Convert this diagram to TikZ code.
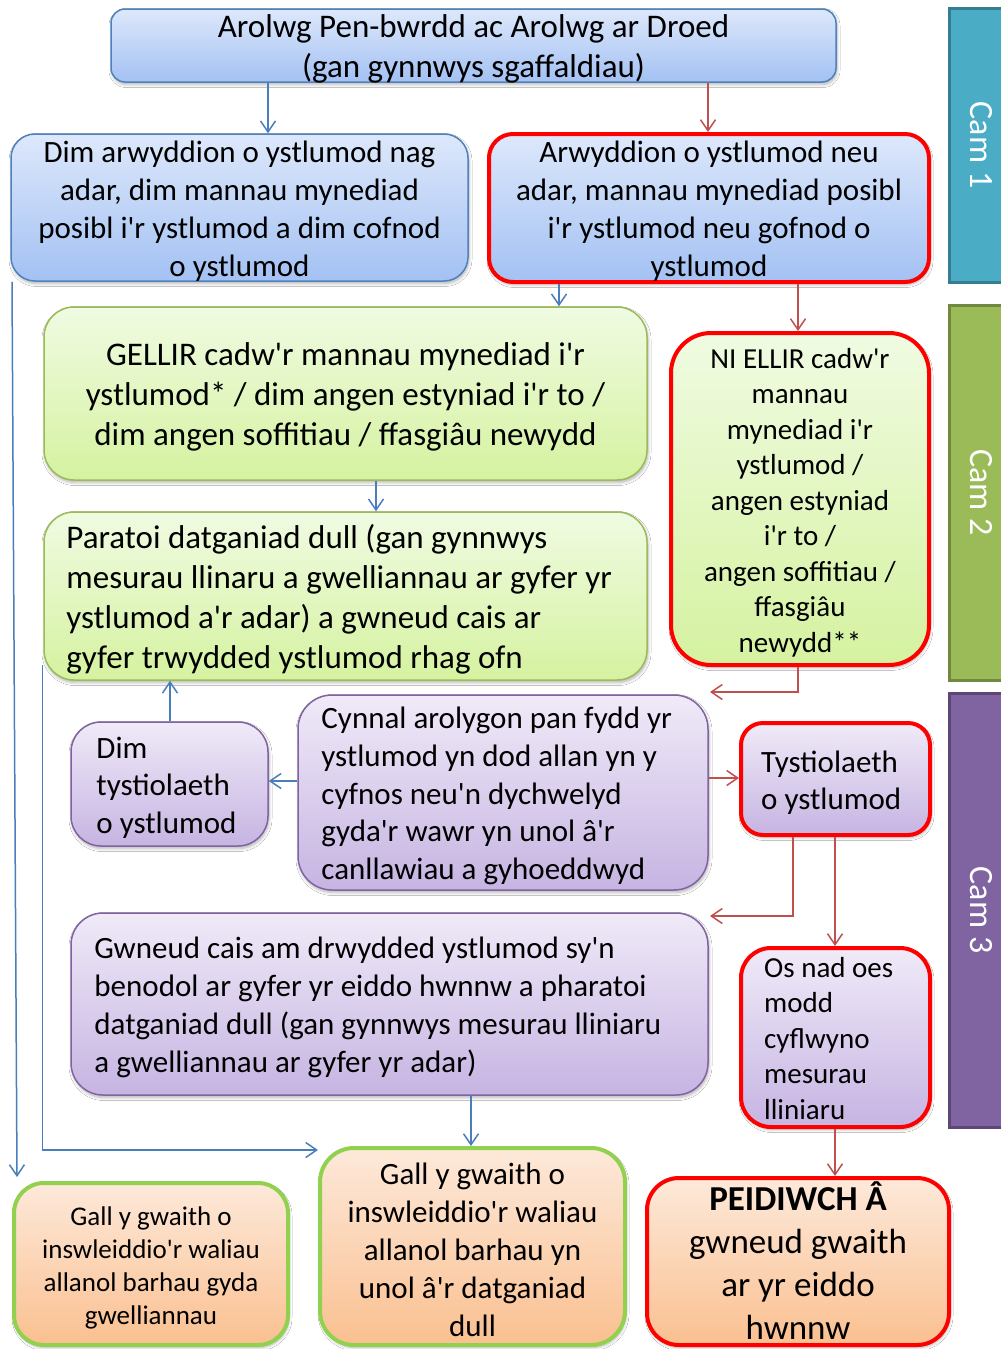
\documentclass[tikz,border=0pt]{standalone}
\usepackage{fontspec}
\setmainfont{Carlito}[Ligatures=TeXOff]
\usetikzlibrary{arrows.meta,shadows.blur}
\definecolor{bbord}{HTML}{4F81BD}
\definecolor{btop}{HTML}{DDE8FB}
\definecolor{bbot}{HTML}{A3C1F3}
\definecolor{gbord}{HTML}{9BBB59}
\definecolor{gtop}{HTML}{F0FBE2}
\definecolor{gbot}{HTML}{D5F2A0}
\definecolor{pbord}{HTML}{8064A2}
\definecolor{ptop}{HTML}{F0EAF8}
\definecolor{pbot}{HTML}{C6B4E2}
\definecolor{otop}{HTML}{FDE9DA}
\definecolor{obot}{HTML}{FAC090}
\definecolor{redb}{HTML}{FF0000}
\definecolor{greenb}{HTML}{92D050}
\definecolor{arrblue}{HTML}{4A7EBB}
\definecolor{arrred}{HTML}{C0504D}
\definecolor{camA}{HTML}{4BACC6}
\definecolor{camAb}{HTML}{357D91}
\definecolor{camB}{HTML}{9BBB59}
\definecolor{camBb}{HTML}{71893F}
\definecolor{camC}{HTML}{8064A2}
\definecolor{camCb}{HTML}{5C4776}
\begin{document}
\begin{tikzpicture}[x=1pt,y=-1pt,
  base/.style={rectangle, inner sep=0pt,
    blur shadow={shadow xshift=1pt, shadow yshift=-2.5pt, shadow opacity=30, shadow blur steps=6, shadow blur radius=3pt}},
  bluebox/.style={base, draw=bbord, line width=1.5pt, top color=btop, bottom color=bbot},
  greenbox/.style={base, draw=gbord, line width=1.5pt, top color=gtop, bottom color=gbot},
  purplebox/.style={base, draw=pbord, line width=1.5pt, top color=ptop, bottom color=pbot},
  orangebox/.style={base, draw=gbord, line width=1.5pt, top color=otop, bottom color=obot},
  redframe/.style={draw=redb, line width=4pt},
  greenframe/.style={draw=greenb, line width=4pt},
  ctext/.style={inner sep=0pt, align=center, text=black, yshift=-3.5pt},
  ltext/.style={inner sep=0pt, align=left, text=black, anchor=west, yshift=-3.5pt},
  camstyle/.style={rectangle, line width=3pt, text=white, rotate=-90, inner sep=0pt,
    font=\fontsize{34}{40}\selectfont},
  fs/.style 2 args={font=\fontsize{#1}{#2}\selectfont},
  barr/.style={draw=arrblue, line width=1.5pt, -{Straight Barb[length=11pt,width=15pt]}},
  rarr/.style={draw=arrred, line width=1.5pt, -{Straight Barb[length=11pt,width=15pt]}},
]
\useasboundingbox (0,0) rectangle (1001,1349);
\fill[white] (0,0) rectangle (1001,1349);

% stage bars
\node[camstyle, fill=camA, draw=camAb, minimum width=274pt, minimum height=64pt] (cam1) at (981,145) {Cam 1};
\node[camstyle, fill=camB, draw=camBb, minimum width=375pt, minimum height=64pt] (cam2) at (981,492.5) {Cam 2};
\node[camstyle, fill=camC, draw=camCb, minimum width=434pt, minimum height=64pt] (cam3) at (981,910) {Cam 3};

% boxes
\node[bluebox, rounded corners=14pt, minimum width=725pt, minimum height=73pt] (top) at (473.5,45.5) {};
\node[ctext, fs={33}{40}] (topt) at (top) {Arolwg Pen-bwrdd ac Arolwg ar Droed\\(gan gynnwys sgaffaldiau)};

\node[bluebox, rounded corners=24pt, minimum width=457pt, minimum height=147pt] (b2) at (239.5,207.5) {};
\node[ctext, fs={31}{38}] (b2t) at (b2) {Dim arwyddion o ystlumod nag\\adar, dim mannau mynediad\\posibl i'r ystlumod a dim cofnod\\o ystlumod};

\node[bluebox, redframe, rounded corners=24pt, minimum width=440pt, minimum height=148pt] (b3) at (709,208) {};
\node[ctext, fs={31}{38}] (b3t) at (b3) {Arwyddion o ystlumod neu\\adar, mannau mynediad posibl\\i'r ystlumod neu gofnod o\\ystlumod};

\node[greenbox, rounded corners=30pt, minimum width=603pt, minimum height=173pt] (gel) at (345.5,393.5) {};
\node[ctext, fs={33}{40}] (gelt) at (gel) {GELLIR cadw'r mannau mynediad i'r\\ystlumod* / dim angen estyniad i'r to /\\dim angen soffitiau / ffasgiâu newydd};

\node[greenbox, redframe, rounded corners=40pt, minimum width=258pt, minimum height=332pt] (ni) at (800,499) {};
\node[ctext, fs={29}{35.5}] (nit) at (ni) {NI ELLIR cadw'r\\mannau\\mynediad i'r\\ystlumod /\\angen estyniad\\i'r to /\\angen soffitiau /\\ffasgiâu\\newydd**};

\node[greenbox, rounded corners=30pt, minimum width=603pt, minimum height=168pt] (par) at (345.5,596) {};
\node[ltext, fs={33}{40}, xshift=23pt] (part) at (par.west) {Paratoi datganiad dull (gan gynnwys\\mesurau llinaru a gwelliannau ar gyfer yr\\ystlumod a'r adar) a gwneud cais ar\\gyfer trwydded ystlumod rhag ofn};

\node[purplebox, rounded corners=30pt, minimum width=197pt, minimum height=124pt] (dim) at (169.5,784) {};
\node[ltext, fs={31}{37.5}, xshift=26pt] (dimt) at (dim.west) {Dim\\tystiolaeth\\o ystlumod};

\node[purplebox, rounded corners=34pt, minimum width=410pt, minimum height=195pt] (cyn) at (503,792.5) {};
\node[ltext, fs={31}{37.7}, xshift=24pt] (cynt) at (cyn.west) {Cynnal arolygon pan fydd yr\\ystlumod yn dod allan yn y\\cyfnos neu'n dychwelyd\\gyda'r wawr yn unol â'r\\canllawiau a gyhoeddwyd};

\node[purplebox, redframe, rounded corners=22pt, minimum width=189pt, minimum height=112pt] (tys) at (835.5,779) {};
\node[ltext, fs={31}{37}, xshift=22pt] (tyst) at (tys.west) {Tystiolaeth\\o ystlumod};

\node[purplebox, rounded corners=32pt, minimum width=637pt, minimum height=182pt] (gwn) at (389.5,1004) {};
\node[ltext, fs={31}{38}, xshift=24pt] (gwnt) at (gwn.west) {Gwneud cais am drwydded ystlumod sy'n\\benodol ar gyfer yr eiddo hwnnw a pharatoi\\datganiad dull (gan gynnwys mesurau lliniaru\\a gwelliannau ar gyfer yr adar)};

\node[purplebox, redframe, rounded corners=30pt, minimum width=189pt, minimum height=179pt] (os) at (835.5,1037.5) {};
\node[ltext, fs={29}{35.5}, xshift=25pt, yshift=2.5pt] (ost) at (os.west) {Os nad oes\\modd\\cyflwyno\\mesurau\\lliniaru};

\node[orangebox, redframe, rounded corners=32pt, minimum width=302pt, minimum height=167pt] (pei) at (798,1261.5) {};
\node[ctext, fs={35}{43}, yshift=4.5pt] (peit) at (pei) {\textbf{PEIDIWCH Â}\\gwneud gwaith\\ar yr eiddo\\hwnnw};

\node[orangebox, greenframe, rounded corners=34pt, minimum width=305pt, minimum height=197pt] (gallm) at (472.5,1246.5) {};
\node[ctext, fs={31}{38}] (gallmt) at (gallm) {Gall y gwaith o\\inswleiddio'r waliau\\allanol barhau yn\\unol â'r datganiad\\dull};

\node[orangebox, greenframe, rounded corners=30pt, minimum width=274pt, minimum height=162pt] (galll) at (151,1264) {};
\node[ctext, fs={27}{33}] (galllt) at (galll) {Gall y gwaith o\\inswleiddio'r waliau\\allanol barhau gyda\\gwelliannau};

% helper coordinates
\coordinate (x12) at (12,0);
\coordinate (x170) at (170,0);
\coordinate (x268) at (268,0);
\coordinate (x376) at (376,0);
\coordinate (x471) at (471,0);
\coordinate (x559) at (559,0);
\coordinate (x708) at (708,0);
\coordinate (x793) at (793,0);
\coordinate (x798) at (798,0);
\coordinate (x835) at (835,0);
\coordinate (y665) at (0,665);
\coordinate (y781) at (0,781);
\coordinate (y778) at (0,778);
\coordinate (e6) at (710,692);
\coordinate (e10) at (710,916);
\coordinate (e14) at (17,1177);
\coordinate (e15) at (318,1150);

% connectors
\draw[barr] (top.south -| x268) -- (b2.north -| x268);
\draw[rarr] (top.south -| x708) -- (b3.north -| x708);
\draw[barr] (b3.south -| x559) -- (gel.north -| x559);
\draw[rarr] (b3.south -| x798) -- (ni.north -| x798);
\draw[barr] (gel.south -| x376) -- (par.north -| x376);
\draw[rarr] (ni.south -| x798) |- (e6);
\draw[barr] (dim.north -| x170) -- (par.south -| x170);
\draw[barr] (cyn.west |- y781) -- (dim.east |- y781);
\draw[rarr] (cyn.east |- y778) -- (tys.west |- y778);
\draw[rarr] (tys.south -| x793) |- (e10);
\draw[rarr] (tys.south -| x835) -- (os.north -| x835);
\draw[rarr] (os.south -| x835) -- (pei.north -| x835);
\draw[barr] (gwn.south -| x471) -- (gallm.north -| x471);
\draw[barr] (b2.south -| x12) -- (e14);
\draw[barr] ([xshift=-1pt]par.west |- y665) |- (e15);
\end{tikzpicture}
\end{document}
